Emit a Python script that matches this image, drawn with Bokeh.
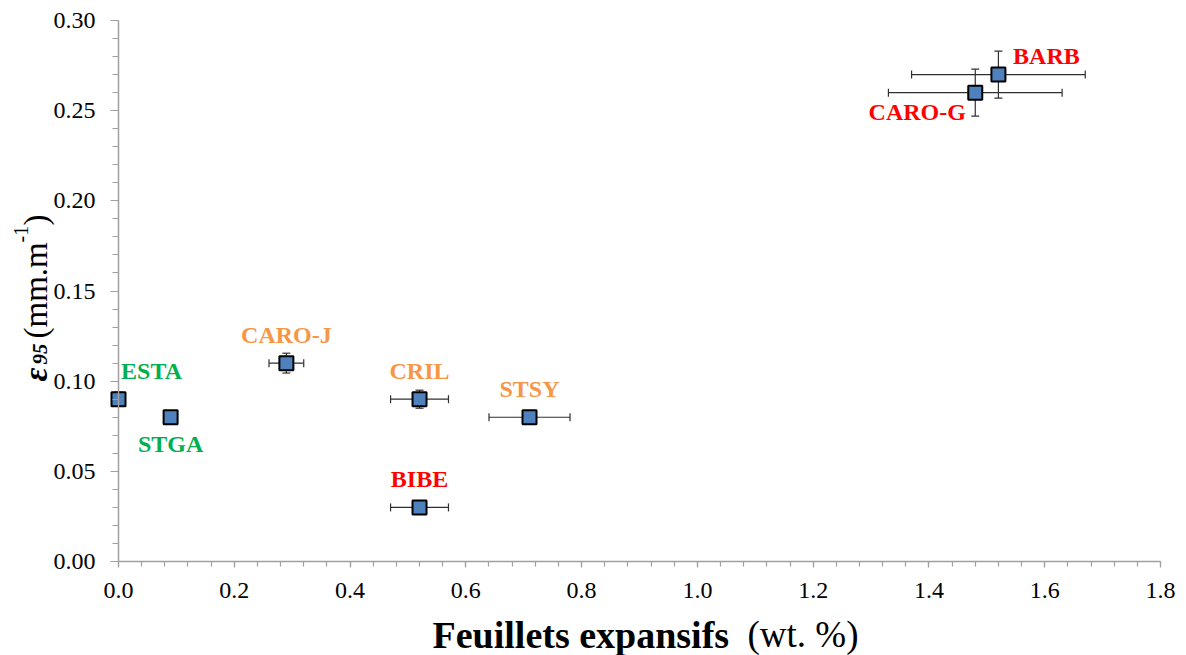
import numpy as np
from bokeh.plotting import figure
from bokeh.models import (ColumnDataSource, Whisker, TeeHead, Label, FixedTicker,
                          NumeralTickFormatter, Range1d, LinearAxis)
from bokeh.core.properties import value
from bokeh.embed import file_html
from bokeh.resources import INLINE

# ---- data -------------------------------------------------------------
sites = ["ESTA", "STGA", "CARO-J", "CRIL", "STSY", "BIBE", "BARB", "CARO-G"]
expansive = [0.00, 0.09, 0.29, 0.52, 0.71, 0.52, 1.52, 1.48]        # wt. %
expansive_err = [0.00, 0.00, 0.03, 0.05, 0.07, 0.05, 0.15, 0.15]
eps95 = [0.09, 0.08, 0.11, 0.09, 0.08, 0.03, 0.27, 0.26]            # mm/m
eps95_err = [0.004, 0.003, 0.0055, 0.005, 0.0, 0.0, 0.013, 0.013]
swelling_class = ["low", "low", "moderate", "moderate", "moderate",
                  "high", "high", "high"]

x_ticks = [0.0, 0.2, 0.4, 0.6, 0.8, 1.0, 1.2, 1.4, 1.6, 1.8]
y_ticks = [0.00, 0.05, 0.10, 0.15, 0.20, 0.25, 0.30]
x_lim = (0.0, 1.8)
y_lim = (0.0, 0.30)

# ---- styling ----------------------------------------------------------
SERIF = "Liberation Serif"
class_colors = {"low": "#00B050", "moderate": "#F79646", "high": "#FF0000"}
# pixel offsets of each site name from its point (text centre / baseline)
label_dx = [33, 0, 0, 0, 0, 0, 48, -58]
label_dy = [-28, 27, -28, -28, -28, -28, -19, 19]

AXIS_GREY = "#A0A0A0"
ERR_COLOR = "#303030"

# page geometry: the plotting frame fills the page, the chart area sits inside
W, H = 1186, 655
AREA_L, AREA_R, AREA_T, AREA_B = 118, 1160, 20, 561
sx = (AREA_R - AREA_L) / (x_lim[1] - x_lim[0])
sy = (AREA_B - AREA_T) / (y_lim[1] - y_lim[0])
x_range = Range1d(x_lim[0] - AREA_L / sx, x_lim[1] + (W - AREA_R) / sx)
y_range = Range1d(y_lim[0] - (H - AREA_B) / sy, y_lim[1] + AREA_T / sy)

p = figure(frame_width=W, frame_height=H, x_range=x_range, y_range=y_range,
           x_axis_type=None, y_axis_type=None,
           min_border=0, output_backend="svg", toolbar_location=None)
p.outline_line_color = None
p.background_fill_color = "white"
p.border_fill_color = "white"

# ---- axes -------------------------------------------------------------
xa = LinearAxis(fixed_location=y_lim[0], bounds=x_lim,
                ticker=FixedTicker(ticks=x_ticks,
                                   minor_ticks=list(np.round(np.arange(0, 1.8001, 0.04), 2))),
                formatter=NumeralTickFormatter(format="0.0"))
xa.major_tick_out, xa.major_tick_in = 6, 0
xa.minor_tick_out, xa.minor_tick_in = 5, 0
xa.major_label_standoff = 15

ya = LinearAxis(fixed_location=x_lim[0], bounds=y_lim,
                ticker=FixedTicker(ticks=y_ticks,
                                   minor_ticks=list(np.round(np.arange(0, 0.3001, 0.01), 2))),
                formatter=NumeralTickFormatter(format="0.00"))
ya.major_tick_out, ya.major_tick_in = 8, 0
ya.minor_tick_out, ya.minor_tick_in = 6, 0
ya.major_label_standoff = 15

for ax in (xa, ya):
    ax.axis_line_color = AXIS_GREY
    ax.axis_line_width = 1.5
    ax.major_tick_line_color = AXIS_GREY
    ax.minor_tick_line_color = AXIS_GREY
    ax.major_tick_line_width = 1.2
    ax.minor_tick_line_width = 1.2
    ax.major_label_text_font = SERIF
    ax.major_label_text_font_size = "24px"
    ax.major_label_text_color = "black"
p.add_layout(xa, "below")
p.add_layout(ya, "left")

# ---- error bars -------------------------------------------------------
xi = [i for i in range(len(sites)) if expansive_err[i] > 0]
xerr_src = ColumnDataSource(dict(
    y=[eps95[i] for i in xi],
    lo=[expansive[i] - expansive_err[i] for i in xi],
    hi=[expansive[i] + expansive_err[i] for i in xi]))
yi = [i for i in range(len(sites)) if eps95_err[i] > 0]
yerr_src = ColumnDataSource(dict(
    x=[expansive[i] for i in yi],
    lo=[eps95[i] - eps95_err[i] for i in yi],
    hi=[eps95[i] + eps95_err[i] for i in yi]))


def tee():
    return TeeHead(size=8, line_color=ERR_COLOR, line_width=1.2)


for src, base, dim in ((xerr_src, "y", "width"), (yerr_src, "x", "height")):
    w = Whisker(source=src, base=base, lower="lo", upper="hi", dimension=dim,
                line_color=ERR_COLOR, line_width=1.2,
                lower_head=tee(), upper_head=tee(), level="underlay")
    p.add_layout(w)

# ---- points and site names --------------------------------------------
src = ColumnDataSource(dict(
    x=expansive, y=eps95, site=sites,
    color=[class_colors[c] for c in swelling_class],
    dx=label_dx, dy=label_dy))

p.scatter("x", "y", source=src, marker="square", size=14,
          fill_color="#4F81BD", line_color="black", line_width=2)

p.text("x", "y", text="site", source=src, x_offset="dx", y_offset="dy",
       text_color="color", text_align="center", text_baseline="alphabetic",
       text_font=value(SERIF), text_font_style="bold", text_font_size="24px")


# ---- axis titles (mixed styles, placed in page pixels) ------------------
def page_label(text, px, py, size, style="normal", angle=0.0):
    p.add_layout(Label(x=px, y=H - py, x_units="screen", y_units="screen",
                       text=text, angle=angle, text_font=SERIF,
                       text_font_style=style, text_font_size=f"{size}px",
                       text_color="black", text_align="left",
                       text_baseline="alphabetic"))


page_label("Feuillets expansifs", 432, 634, 38, "bold")
page_label("(wt. %)", 747, 634, 37)

up = np.pi / 2
page_label("\u03b5", 35, 381, 34, "bold italic", up)
page_label("95", 39, 364, 21, "bold italic", up)
page_label("(mm.m", 35, 338, 33, "normal", up)
page_label("-1", 20, 242, 20, "normal", up)
page_label(")", 35, 225, 33, "normal", up)

open("out.html", "w").write(file_html(p, INLINE))
